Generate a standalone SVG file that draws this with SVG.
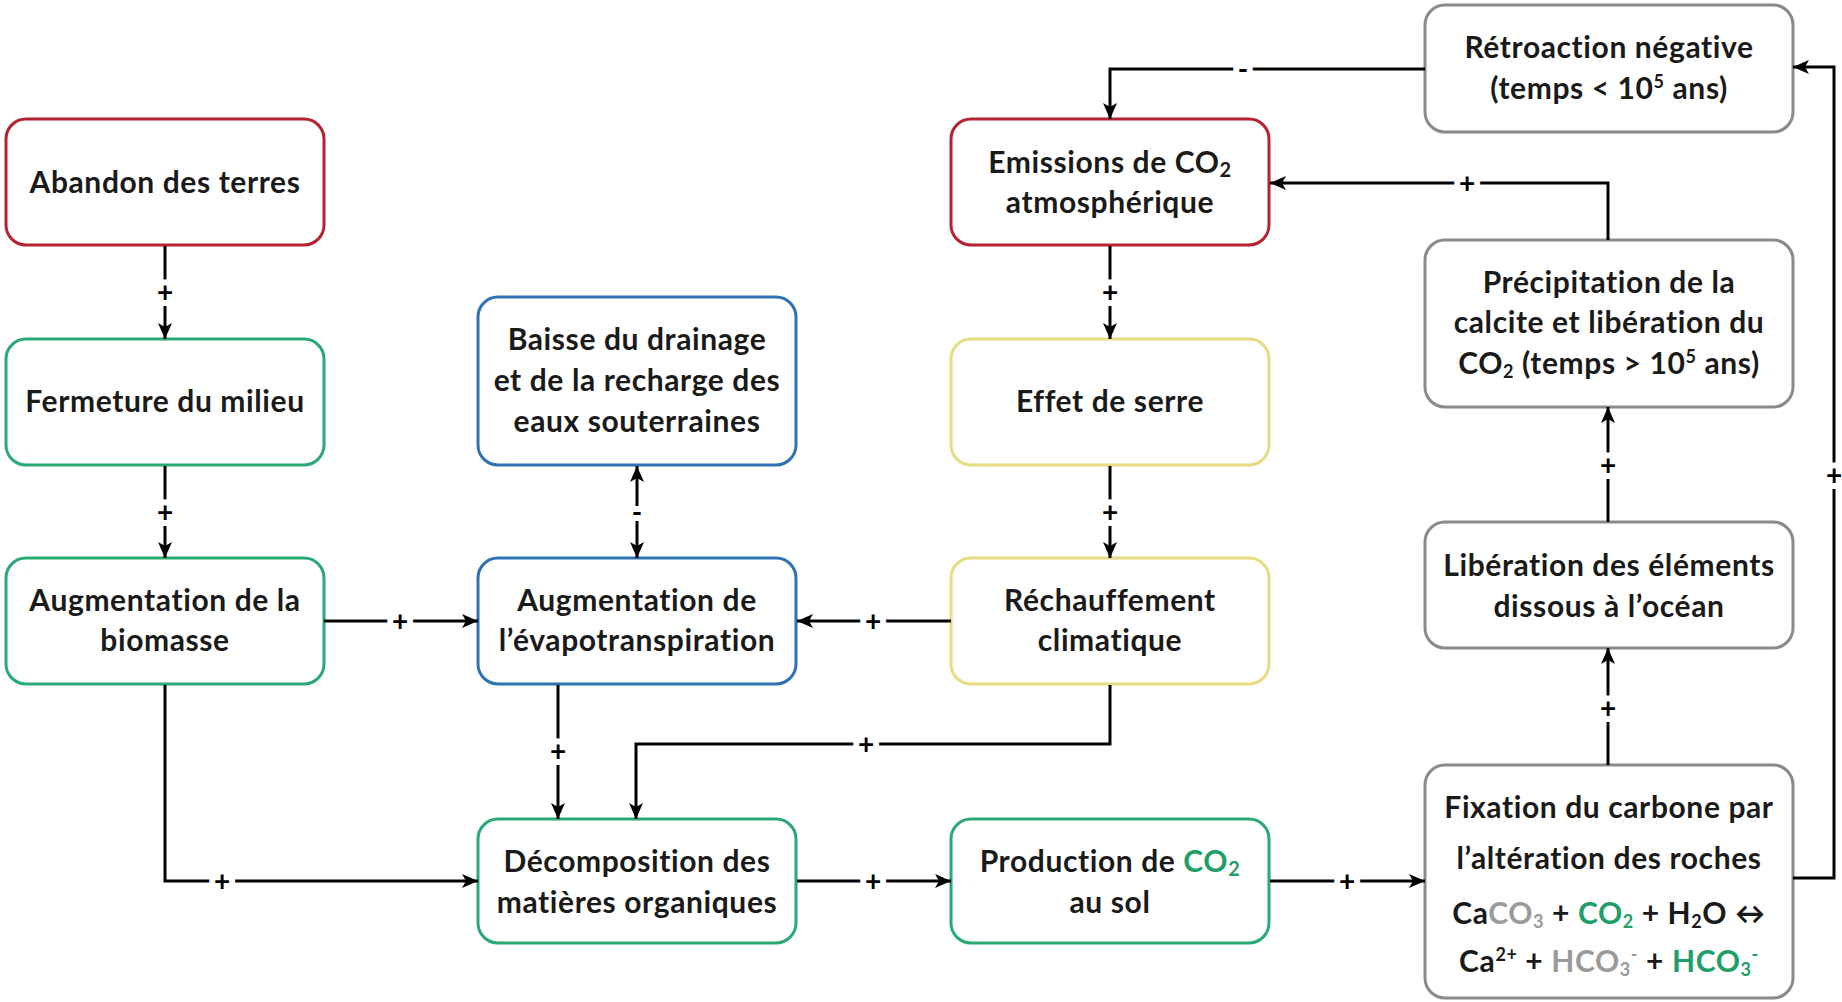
<svg xmlns="http://www.w3.org/2000/svg" width="1842" height="1002" viewBox="0 0 1842 1002">
<style>
.box{fill:#ffffff;stroke-width:3;}
.red{stroke:#b52232;}
.green{stroke:#2aa875;}
.blue{stroke:#2f72b4;}
.yellow{stroke:#e6dc82;}
.gray{stroke:#8a8a8a;}
.t{font-family:Lato,"Open Sans","Liberation Sans",sans-serif;font-weight:bold;font-size:30px;letter-spacing:0.6px;fill:#1a1a1a;text-anchor:middle;}
.g{fill:#1f9e6a;}
.gr{fill:#9a9a9a;}
.c{fill:none;stroke:#000;stroke-width:3;}
.lbl{font-family:Lato,"Liberation Sans",sans-serif;font-weight:bold;font-size:28px;fill:#000;text-anchor:middle;stroke:#fff;stroke-width:12px;paint-order:stroke;}
</style>
<defs>
<marker id="ah" markerUnits="userSpaceOnUse" markerWidth="18" markerHeight="16" refX="16" refY="8" orient="auto-start-reverse">
<path d="M0,1 L16,8 L0,15 L4,8 z" fill="#000"/>
</marker>
</defs>
<rect width="1842" height="1002" fill="#ffffff"/>

<g id="n-abandon"><rect class="box red" x="6" y="119" width="318" height="126" rx="20"/>
<text class="t" x="165" y="193">Abandon des terres</text></g>

<g id="n-fermeture"><rect class="box green" x="6" y="339" width="318" height="126" rx="20"/>
<text class="t" x="165" y="412">Fermeture du milieu</text></g>

<g id="n-biomasse"><rect class="box green" x="6" y="558" width="318" height="126" rx="20"/>
<text class="t" x="165" y="611">Augmentation de la</text>
<text class="t" x="165" y="651">biomasse</text></g>

<g id="n-baisse"><rect class="box blue" x="478" y="297" width="318" height="168" rx="20"/>
<text class="t" x="637" y="350">Baisse du drainage</text>
<text class="t" x="637" y="391">et de la recharge des</text>
<text class="t" x="637" y="432">eaux souterraines</text></g>

<g id="n-evapo"><rect class="box blue" x="478" y="558" width="318" height="126" rx="20"/>
<text class="t" x="637" y="611">Augmentation de</text>
<text class="t" x="637" y="651">l’évapotranspiration</text></g>

<g id="n-decomposition"><rect class="box green" x="478" y="819" width="318" height="124" rx="20"/>
<text class="t" x="637" y="872">Décomposition des</text>
<text class="t" x="637" y="913">matières organiques</text></g>

<g id="n-emissions"><rect class="box red" x="951" y="119" width="318" height="126" rx="20"/>
<text class="t" x="1110" y="173">Emissions de CO<tspan font-size="20" baseline-shift="-4">2</tspan></text>
<text class="t" x="1110" y="213">atmosphérique</text></g>

<g id="n-effet"><rect class="box yellow" x="951" y="339" width="318" height="126" rx="20"/>
<text class="t" x="1110" y="412">Effet de serre</text></g>

<g id="n-rechauffement"><rect class="box yellow" x="951" y="558" width="318" height="126" rx="20"/>
<text class="t" x="1110" y="611">Réchauffement</text>
<text class="t" x="1110" y="651">climatique</text></g>

<g id="n-production"><rect class="box green" x="951" y="819" width="318" height="124" rx="20"/>
<text class="t" x="1110" y="872">Production de <tspan class="g">CO<tspan font-size="20" baseline-shift="-4">2</tspan></tspan></text>
<text class="t" x="1110" y="913">au sol</text></g>

<g id="n-retroaction"><rect class="box gray" x="1425" y="5" width="368" height="127" rx="20"/>
<text class="t" x="1609" y="58">Rétroaction négative</text>
<text class="t" x="1609" y="99">(temps &lt; 10<tspan font-size="18" baseline-shift="11">5</tspan> ans)</text></g>

<g id="n-precipitation"><rect class="box gray" x="1425" y="240" width="368" height="167" rx="20"/>
<text class="t" x="1609" y="293">Précipitation de la</text>
<text class="t" x="1609" y="333">calcite et libération du</text>
<text class="t" x="1609" y="374">CO<tspan font-size="18" baseline-shift="-4">2</tspan> (temps &gt; 10<tspan font-size="18" baseline-shift="11">5</tspan> ans)</text></g>

<g id="n-liberation"><rect class="box gray" x="1425" y="522" width="368" height="126" rx="20"/>
<text class="t" x="1609" y="576">Libération des éléments</text>
<text class="t" x="1609" y="617">dissous à l’océan</text></g>

<g id="n-fixation"><rect class="box gray" x="1425" y="765" width="368" height="233" rx="20"/>
<text class="t" x="1609" y="818">Fixation du carbone par</text>
<text class="t" x="1609" y="869">l’altération des roches</text>
<text class="t" x="1609" y="924">Ca<tspan class="gr">CO<tspan font-size="18" baseline-shift="-4">3</tspan></tspan> + <tspan class="g">CO<tspan font-size="18" baseline-shift="-4">2</tspan></tspan> + H<tspan font-size="18" baseline-shift="-4">2</tspan>O ↔</text>
<text class="t" x="1609" y="972">Ca<tspan font-size="18" baseline-shift="11">2+</tspan> + <tspan class="gr">HCO<tspan font-size="18" baseline-shift="-4">3</tspan><tspan font-size="18" baseline-shift="11">-</tspan></tspan> + <tspan class="g">HCO<tspan font-size="18" baseline-shift="-4">3</tspan><tspan font-size="18" baseline-shift="11">-</tspan></tspan></text></g>

<g id="connectors">
<path class="c" d="M165 246 V339" marker-end="url(#ah)"/>
<path class="c" d="M165 466 V558" marker-end="url(#ah)"/>
<path class="c" d="M324 621 H478" marker-end="url(#ah)"/>
<path class="c" d="M951 621 H797" marker-end="url(#ah)"/>
<path class="c" d="M637 466 V558" marker-start="url(#ah)" marker-end="url(#ah)"/>
<path class="c" d="M1110 246 V339" marker-end="url(#ah)"/>
<path class="c" d="M1110 466 V558" marker-end="url(#ah)"/>
<path class="c" d="M558 685 V819" marker-end="url(#ah)"/>
<path class="c" d="M1110 685 V744 H636 V819" marker-end="url(#ah)"/>
<path class="c" d="M165 685 V881 H478" marker-end="url(#ah)"/>
<path class="c" d="M797 881 H951" marker-end="url(#ah)"/>
<path class="c" d="M1270 881 H1425" marker-end="url(#ah)"/>
<path class="c" d="M1608 765 V648" marker-end="url(#ah)"/>
<path class="c" d="M1608 522 V407" marker-end="url(#ah)"/>
<path class="c" d="M1608 240 V183 H1270" marker-end="url(#ah)"/>
<path class="c" d="M1793 878 H1834 V67 H1793" marker-end="url(#ah)"/>
<path class="c" d="M1425 69 H1110 V119" marker-end="url(#ah)"/>
<text class="lbl" x="165" y="302">+</text>
<text class="lbl" x="165" y="522">+</text>
<text class="lbl" x="400" y="631">+</text>
<text class="lbl" x="873" y="631">+</text>
<text class="lbl" x="637" y="522">-</text>
<text class="lbl" x="1110" y="302">+</text>
<text class="lbl" x="1110" y="522">+</text>
<text class="lbl" x="558" y="761">+</text>
<text class="lbl" x="866" y="754">+</text>
<text class="lbl" x="222" y="891">+</text>
<text class="lbl" x="873" y="891">+</text>
<text class="lbl" x="1347" y="891">+</text>
<text class="lbl" x="1608" y="718">+</text>
<text class="lbl" x="1608" y="475">+</text>
<text class="lbl" x="1467" y="193">+</text>
<text class="lbl" x="1834" y="485">+</text>
<text class="lbl" x="1243" y="79">-</text>
</g>
</svg>
